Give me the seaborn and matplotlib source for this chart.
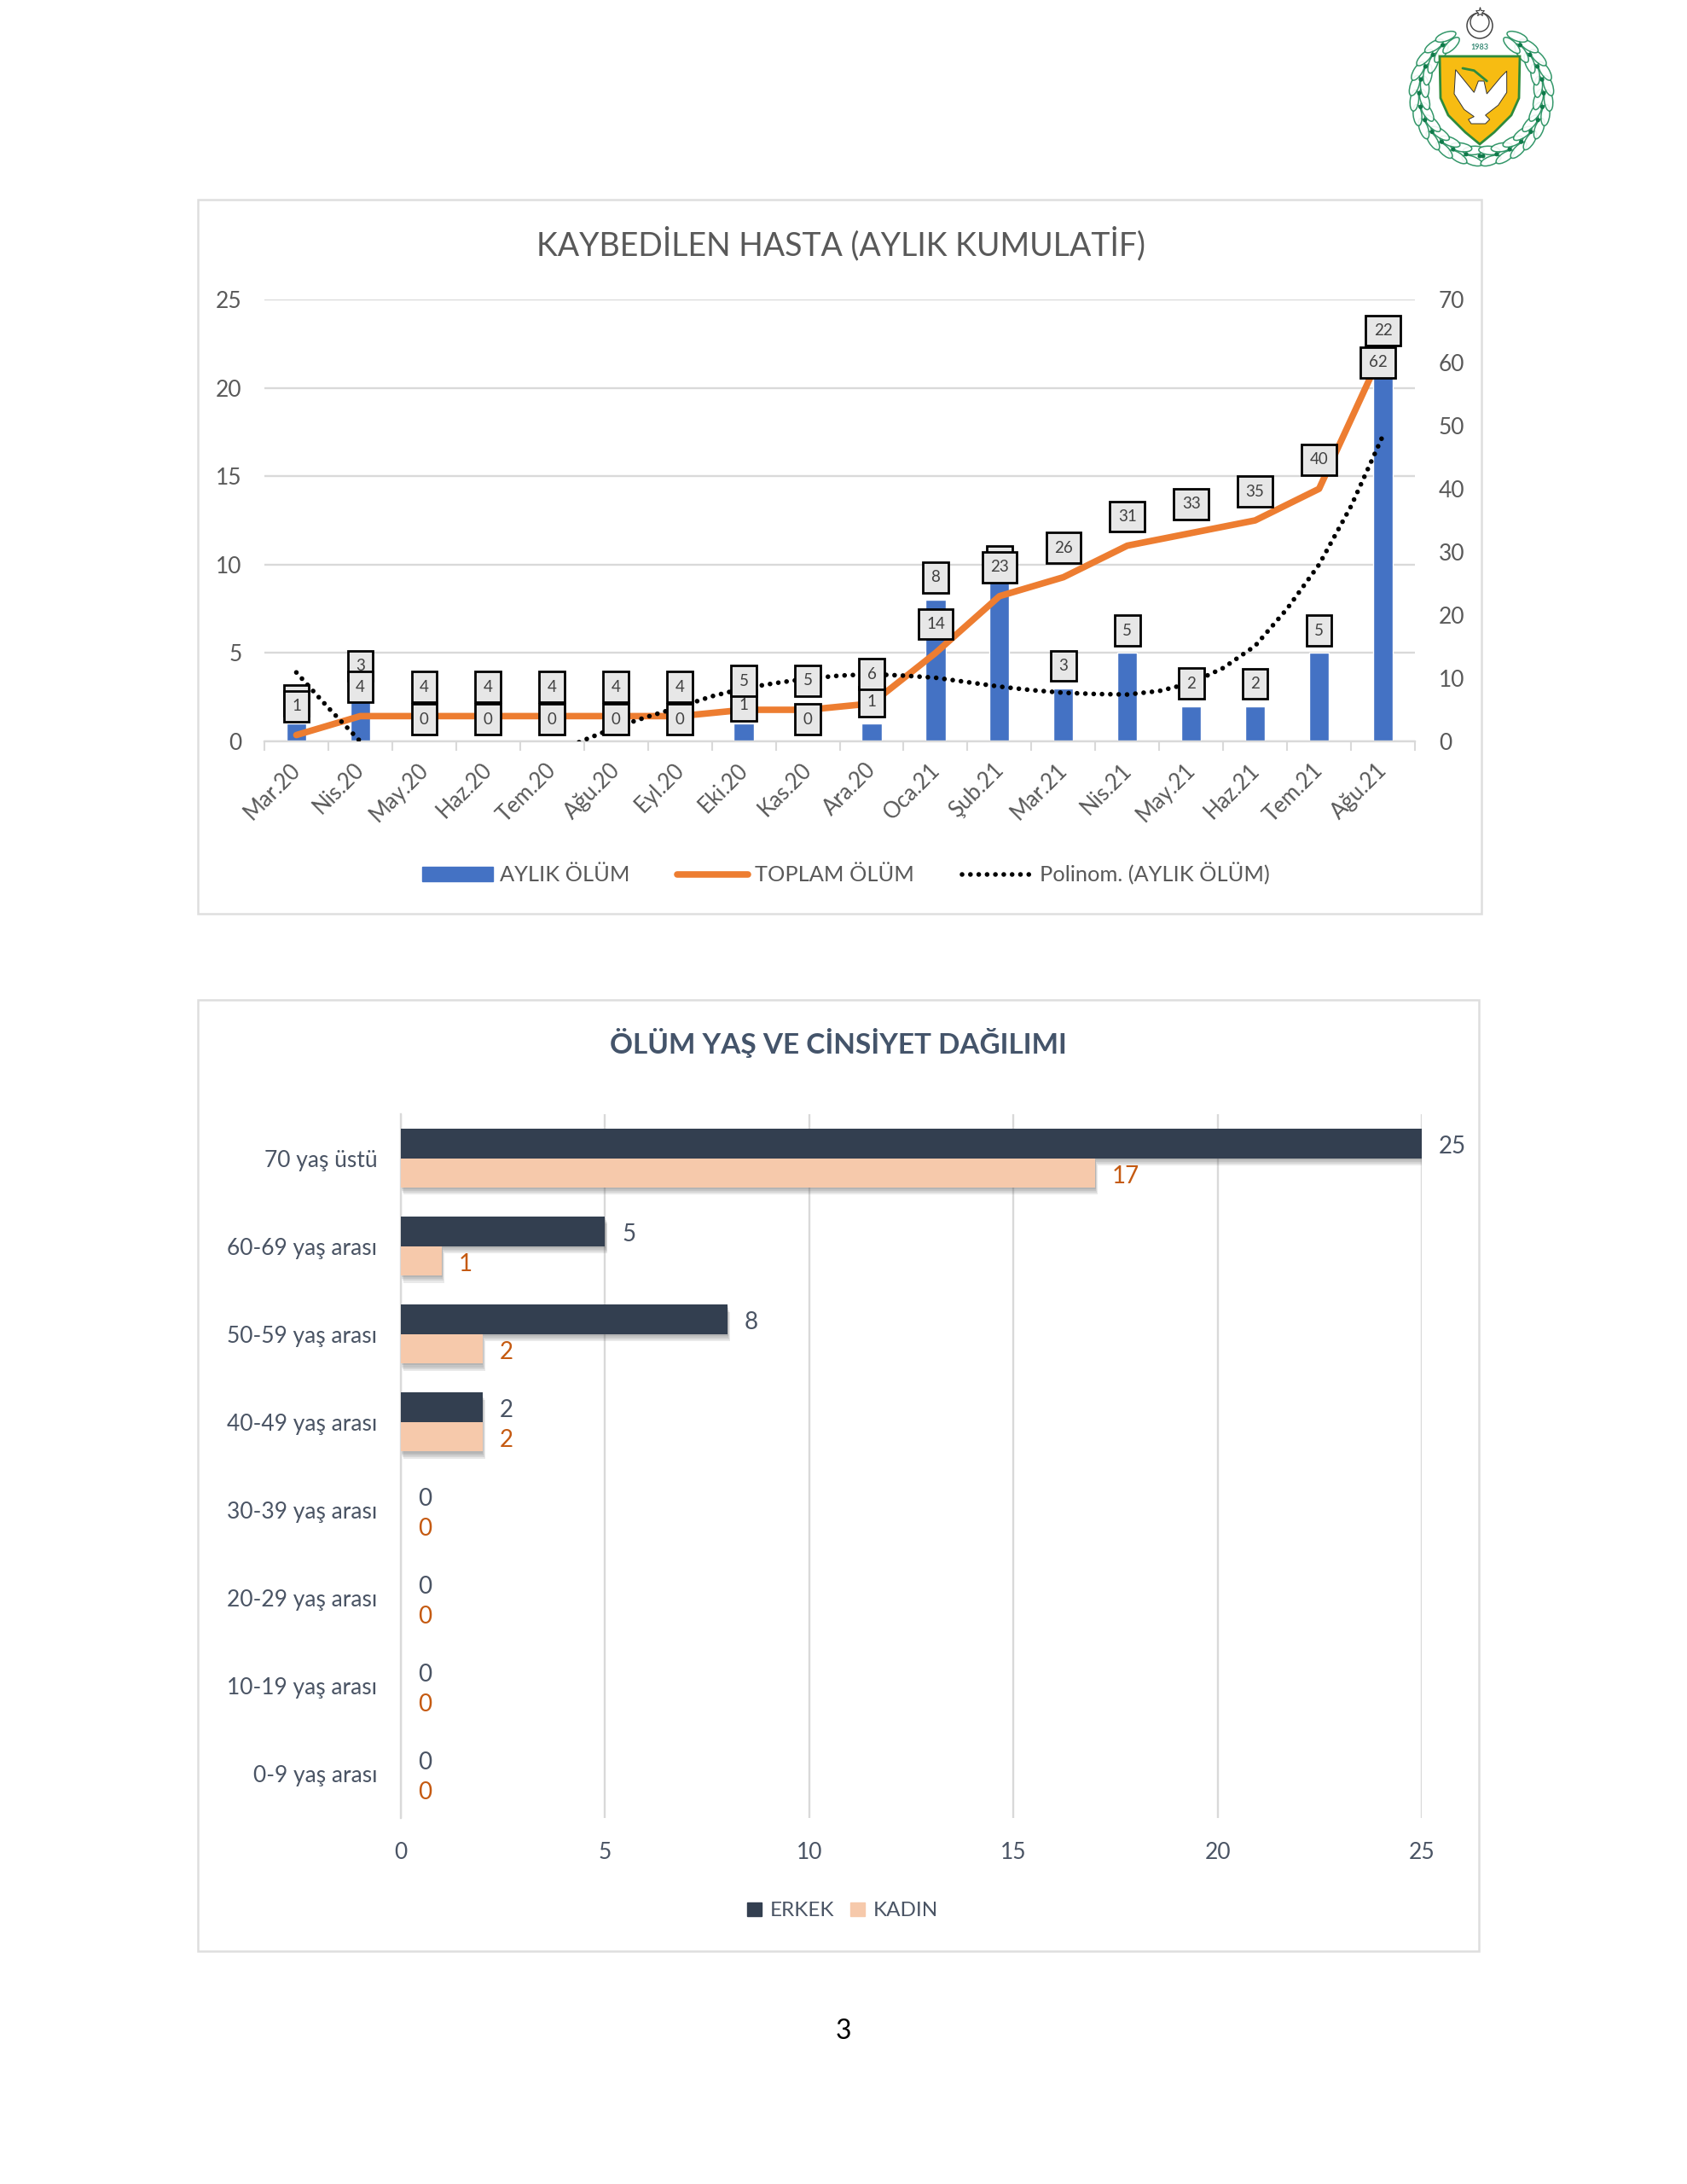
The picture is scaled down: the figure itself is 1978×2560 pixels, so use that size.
import numpy as np
import pandas as pd
import matplotlib
matplotlib.use("Agg")
import matplotlib.pyplot as plt
import matplotlib.patheffects as pe
import matplotlib.transforms as mtrans
from matplotlib.patches import Rectangle, Polygon, Ellipse, Circle, Patch
from matplotlib.lines import Line2D
import seaborn as sns

# ---- data: chart 1
months = ["Mar.20","Nis.20","May.20","Haz.20","Tem.20","Ağu.20","Eyl.20","Eki.20","Kas.20","Ara.20",
          "Oca.21","Şub.21","Mar.21","Nis.21","May.21","Haz.21","Tem.21","Ağu.21"]
monthly = [1,3,0,0,0,0,0,1,0,1,8,9,3,5,2,2,5,22]
total = [1,4,4,4,4,4,4,5,5,6,14,23,26,31,33,35,40,62]
trend_pos = [0,0.5,1,1.5,2,3,4,4.45,5,5.5,6,6.5,7,7.5,8,8.5,9,9.5,10,10.5,11,11.5,12,12.5,13,13.5,14,14.5,15,15.5,16,16.5,17]
trend_val = [3.9,1.9,0.0,-1.0,-1.6,-1.9,-0.8,0.0,0.8,1.4,1.95,2.55,3.0,3.3,3.55,3.72,3.8,3.72,3.6,3.35,3.1,2.9,2.75,2.68,2.65,2.85,3.3,4.15,5.4,7.5,10.0,13.3,17.3]
monthly_label_y = [2.33,4.27,1.24,1.24,1.24,1.24,1.24,2.04,1.24,2.25,9.28,10.2,4.27,6.26,3.28,3.26,6.26,23.24]
total_label_y = [1.99,3.08,3.08,3.08,3.08,3.08,3.08,3.41,3.44,3.80,6.64,9.85,10.94,12.72,13.42,14.14,15.93,21.43]
total_label_dx = [0]*17 + [-0.08]

# ---- data: chart 2
ages = ["70 yaş üstü","60-69 yaş arası","50-59 yaş arası","40-49 yaş arası","30-39 yaş arası","20-29 yaş arası","10-19 yaş arası","0-9 yaş arası"]
erkek = [25,5,8,2,0,0,0,0]
kadin = [17,1,2,2,0,0,0,0]

sns.set_theme(style="white")
plt.rcParams['font.family'] = ['Lato', 'DejaVu Sans']
W, H = 1978, 2560
fig = plt.figure(figsize=(W/100, H/100), dpi=100, facecolor="white")
GREY = "#595959"; GRID = "#D9D9D9"; SLATE = "#4A5464"

def axpx(x0, y0, x1, y1):
    return fig.add_axes([x0/W, 1-y1/H, (x1-x0)/W, (y1-y0)/H])

def panel(x0, y0, x1, y1):
    fig.add_artist(Rectangle((x0/W, 1-y1/H), (x1-x0)/W, (y1-y0)/H, transform=fig.transFigure,
                             fc="white", ec="#DEDEDE", lw=1.8, zorder=-5))

panel(232, 234, 1737, 1071)
panel(232, 1172, 1734, 2287)

# ---------- chart 1
DOT = (0, (0.01, 1.75))
df1 = pd.DataFrame({"ay": months, "aylik": monthly, "toplam": total})
ax = axpx(310, 351, 1659, 869)
sns.barplot(data=df1, x="ay", y="aylik", color="#4472C4", saturation=1, width=0.31, ax=ax, zorder=2)
ax.set_xlim(-0.5, 17.5); ax.set_ylim(0, 25)
ax.set_yticks(range(0, 30, 5))
ax.yaxis.grid(True, color=GRID, lw=1.7); ax.set_axisbelow(True)
ax.set_xlabel(""); ax.set_ylabel("")
for s in ["top", "left", "right"]:
    ax.spines[s].set_visible(False)
ax.spines["bottom"].set_color(GRID); ax.spines["bottom"].set_linewidth(1.7)
ax.set_xticks(np.arange(-0.5, 18, 1), minor=True)
ax.tick_params(axis="x", which="minor", length=8, width=1.5, color=GRID, bottom=True)
ax.tick_params(axis="x", which="major", length=0, pad=15)
ax.set_xticks(range(18)); ax.set_xticklabels(months, rotation=45, ha="right", rotation_mode="anchor",
                                             fontsize=18.5, color=GREY)
shift = mtrans.ScaledTranslation(-8/100, 0, fig.dpi_scale_trans)
for t in ax.get_xticklabels():
    t.set_transform(t.get_transform() + shift)
ax.tick_params(axis="y", length=0, pad=19, labelsize=19, labelcolor=GREY)

ax2 = ax.twinx()
sns.lineplot(data=df1.reset_index(), x="index", y="toplam", color="#ED7D31", lw=5.5, ax=ax2, zorder=3,
             solid_capstyle="round", errorbar=None)
ax2.set_ylim(0, 70); ax2.set_yticks(range(0, 80, 10))
ax2.set_xlabel(""); ax2.set_ylabel("")
for s in ax2.spines.values():
    s.set_visible(False)
ax2.tick_params(axis="y", length=0, pad=20, labelsize=19, labelcolor=GREY, right=False)
ax2.grid(False)
ax2.patch.set_visible(False)

ax3 = ax.twinx()
sns.lineplot(x=trend_pos, y=trend_val, color="black", lw=4, ax=ax3, zorder=4, errorbar=None, sort=False,
             linestyle=DOT, dash_capstyle="round")
ax3.set_xlim(-0.5, 17.5); ax3.set_ylim(0, 25); ax3.axis("off")

box = dict(boxstyle="square,pad=0.5", fc="#E7E7E7", ec="black", lw=2)
for i in range(18):
    ax3.text(i, monthly_label_y[i], str(monthly[i]), ha="center", va="center", fontsize=13.5,
             color="#404040", bbox=box, zorder=5)
for i in range(18):
    ax3.text(i + total_label_dx[i], total_label_y[i], str(total[i]), ha="center", va="center", fontsize=13.5,
             color="#404040", bbox=box, zorder=6)

fig.text(986/W, 1-286/H, "KAYBEDİLEN HASTA (AYLIK KUMULATİF)", ha="center", va="center", fontsize=27, color=GREY)
h1 = [Patch(color="#4472C4", label="AYLIK ÖLÜM"),
      Line2D([], [], color="#ED7D31", lw=5.5, solid_capstyle="round", label="TOPLAM ÖLÜM"),
      Line2D([], [], color="black", lw=4, linestyle=DOT, dash_capstyle="round", label="Polinom. (AYLIK ÖLÜM)")]
fig.legend(handles=h1, loc="center", bbox_to_anchor=(992/W, 1-1024/H), ncol=3, frameon=False, fontsize=18.3,
           labelcolor=GREY, handlelength=3.25, handletextpad=0.33, columnspacing=2.2, handleheight=0.65)

# ---------- chart 2
df2 = pd.DataFrame({"yas": ages*2, "deger": erkek+kadin, "cins": ["ERKEK"]*8+["KADIN"]*8})
bx = axpx(470, 1306, 1667, 2131)
DARK = "#333F50"; PEACH = "#F6C9AB"; ORNG = "#C55A11"
sns.barplot(data=df2, y="yas", x="deger", hue="cins", palette={"ERKEK": DARK, "KADIN": PEACH}, saturation=1,
            order=ages, width=0.67, dodge=True, ax=bx, legend=False, zorder=3, linewidth=0)
bx.set_xlim(0, 25); bx.set_ylim(7.5, -0.5)
bx.set_xticks(range(0, 30, 5))
bx.xaxis.grid(True, color=GRID, lw=1.7); bx.yaxis.grid(False); bx.set_axisbelow(True)
bx.set_xlabel(""); bx.set_ylabel("")
for s in ["top", "right", "bottom"]:
    bx.spines[s].set_visible(False)
bx.spines["left"].set_color(GRID); bx.spines["left"].set_linewidth(1.7)
bx.tick_params(axis="both", length=0, labelsize=19, labelcolor=SLATE)
bx.tick_params(axis="y", pad=20); bx.tick_params(axis="x", pad=20)
soft = [pe.SimplePatchShadow(offset=(o*0.35, -o), shadow_rgbFace="#555555", alpha=0.13) for o in (6, 4.5, 3, 1.5)]
for p in bx.patches:
    p.set_linewidth(0)
    if p.get_width() > 0:
        p.set_path_effects(soft + [pe.Normal()])
    else:
        p.set_visible(False)
for i in range(8):
    bx.annotate(str(erkek[i]), (erkek[i], i-0.17), xytext=(20, -4), textcoords="offset pixels", va="center", ha="left",
                fontsize=20, color=SLATE, clip_on=False)
    bx.annotate(str(kadin[i]), (kadin[i], i+0.17), xytext=(20, -4), textcoords="offset pixels", va="center", ha="left",
                fontsize=20, color=ORNG, clip_on=False)

fig.text(983/W, 1-1223/H, "ÖLÜM YAŞ VE CİNSİYET DAĞILIMI", ha="center", va="center", fontsize=24,
         fontweight="bold", color="#44546A")
h2 = [Patch(color=DARK, label="ERKEK"), Patch(color=PEACH, label="KADIN")]
fig.legend(handles=h2, loc="center", bbox_to_anchor=(988/W, 1-2240/H), ncol=2, frameon=False, fontsize=17.5,
           labelcolor=SLATE, handlelength=0.67, handleheight=0.67, handletextpad=0.4, columnspacing=0.8)

fig.text(989/W, 1-2381/H, "3", ha="center", va="center", fontsize=23, color="black")

# ---------- emblem (decorative)
lg = axpx(1640, 0, 1830, 200)
lg.set_xlim(1640, 1830); lg.set_ylim(200, 0); lg.axis("off")
G = "#1E8C5A"
cx0, cy0, rad = 1737, 110, 73
for sgn in (-1, 1):
    for deg in np.linspace(82, -58, 12):
        ang = np.deg2rad(deg)
        for off in (-6, 6):
            r = rad + off
            x = cx0 + sgn*r*np.cos(ang); y = cy0 + r*np.sin(ang)
            lg.add_patch(Ellipse((x, y), 10, 25, angle=sgn*deg + sgn*(-off*2), fc="white", ec=G, lw=1.1, alpha=0.9))
        x = cx0 + sgn*rad*np.cos(ang + np.deg2rad(6.5)); y = cy0 + rad*np.sin(ang + np.deg2rad(6.5))
        lg.add_patch(Circle((x, y), 2.6, fc="#0F7A4A", ec="none"))
lg.add_patch(Circle((1735, 30), 15, fc="white", ec="#444444", lw=1.1))
lg.add_patch(Circle((1735, 26), 11, fc="white", ec="#444444", lw=1.0))
lg.plot([1735], [14], marker="*", ms=8, color="white", mec="#444444", mew=0.8)
lg.text(1735, 55, "1983", ha="center", va="center", fontsize=6.5, color="#3C8C78", fontweight="bold")
shield = [[1688,66],[1782,66],[1781,115],[1772,135],[1752,155],[1735,169],[1718,155],[1698,135],[1689,115]]
lg.add_patch(Polygon(shield, closed=True, fc="#F7BC12", ec="#2E8B3C", lw=2))
dove_z = [(320,245),(315,330),(350,385),(385,410),(365,420),(375,435),(425,435),(440,420),(425,405),(470,370),
          (500,325),(500,250),(480,270),(430,330),(420,285),(400,285),(385,325)]
lg.add_patch(Polygon([[1600+a/3, b/3] for a, b in dove_z], closed=True, fc="white", ec="#333333", lw=0.7))
lg.plot([1600+a/3 for a in (345,385,430)], [b/3 for b in (240,248,285)], color="#2E8B3C", lw=2)

fig.savefig("out.png", dpi=100, facecolor="white")
